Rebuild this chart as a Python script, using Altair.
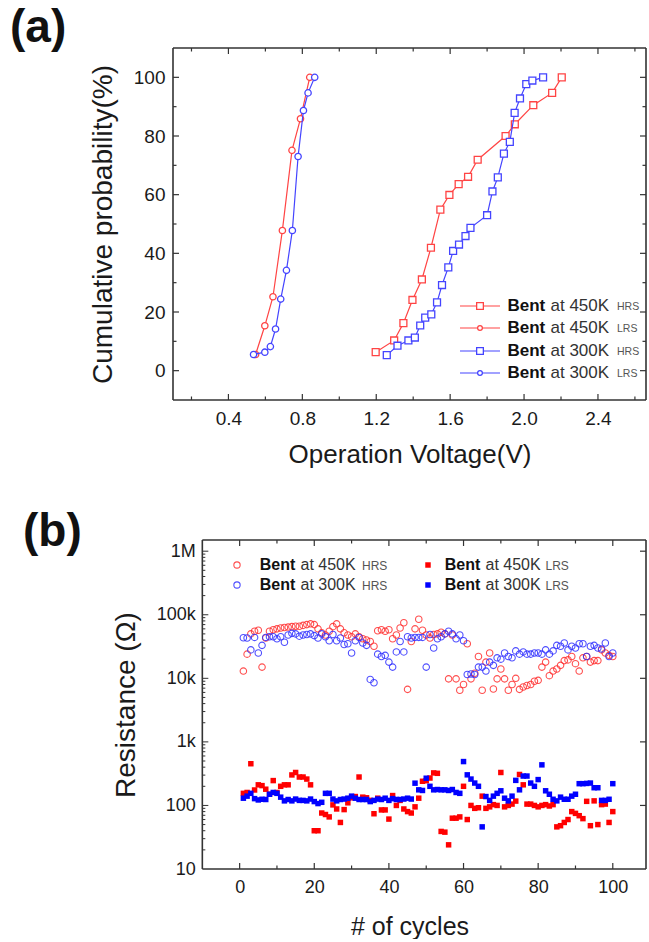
import altair as alt
import pandas as pd

FONT = "Liberation Sans"
RED_A = "#ff4444"
BLUE_A = "#4444ff"
RED = "#ff0000"
BLUE = "#0000ff"
FRAME = "#333333"
TXT = "#1a1a1a"

# ---------------- panel (a) data ----------------
hrs450_v = [1.197, 1.297, 1.347, 1.396, 1.447, 1.496, 1.547, 1.596, 1.646, 1.697,
            1.749, 1.900, 1.950, 2.050, 2.152, 2.204]
hrs450_p = [6.3, 10.3, 16.2, 24.1, 31.1, 41.9, 54.9, 59.9, 63.6, 66.1,
            71.9, 80.0, 84.0, 90.5, 94.7, 100.0]
lrs450_v = [0.547, 0.597, 0.641, 0.692, 0.744, 0.790, 0.840]
lrs450_p = [5.5, 15.3, 25.2, 47.8, 75.1, 85.9, 100.0]
hrs300_v = [1.257, 1.315, 1.374, 1.409, 1.438, 1.465, 1.498, 1.529, 1.556, 1.590,
            1.616, 1.648, 1.683, 1.710, 1.800, 1.829, 1.858, 1.891, 1.923, 1.949,
            1.978, 2.012, 2.045, 2.103]
hrs300_p = [5.3, 8.5, 10.3, 11.3, 15.4, 18.1, 19.2, 23.3, 29.2, 35.2,
            40.8, 43.0, 45.9, 48.7, 53.0, 61.1, 65.9, 74.0, 78.0, 87.9,
            92.8, 97.7, 98.9, 100.0]
lrs300_v = [0.536, 0.597, 0.627, 0.655, 0.683, 0.714, 0.746, 0.777, 0.806, 0.831, 0.867]
lrs300_p = [5.5, 6.3, 8.2, 14.2, 24.4, 34.2, 47.8, 73.0, 88.7, 94.7, 100.0]

xa_major = [0.4, 0.8, 1.2, 1.6, 2.0, 2.4]
xa_minor = [0.2, 0.6, 1.0, 1.4, 1.8, 2.2, 2.6]
ya_major = [0, 20, 40, 60, 80, 100]
ya_minor = [10, 30, 50, 70, 90]

# ---------------- panel (b) data ----------------
cycles = list(range(1, 101))
hrs450_k = [13, 24, 50, 55, 57, 15, 43, 55, 58, 60,
            62, 63, 64, 65, 66, 66, 68, 70, 72, 70,
            60, 52, 48, 55, 65, 72, 60, 52, 48, 45,
            50, 45, 42, 40, 38, 32, 56, 58, 55, 58,
            42, 48, 62, 75, 6.7, 38, 60, 85, 57, 48,
            43, 49, 50, 53, 50, 9.8, 48, 9.8, 6.5, 8,
            35, 9.8, 12, 22, 6.5, 18, 25, 6.8, 9.8, 14,
            9.8, 6.5, 8, 10, 6.7, 7.3, 7.7, 8, 9, 9.3,
            15, 18, 11, 13, 14, 16, 19, 19.5, 22, 17,
            13, 21, 22, 18, 19, 19, 28, 25, 23, 22]
hrs300_k = [43.5, 43, 28, 44, 25, 33, 44, 45, 45, 42,
            45, 37, 48, 51, 50, 46, 48, 49, 50, 47,
            43, 50, 45, 39, 49, 39, 43, 34, 35, 25,
            39, 44, 36, 33, 9.6, 8.5, 24, 22, 23, 18,
            15, 26, 38, 26, 45, 43, 44, 44, 44, 15,
            49, 30, 42, 45, 50, 55, 50, 42, 48, 39,
            11.5, 11.7, 11.5, 15, 15, 13, 18, 16, 21, 20,
            25, 22, 21, 27, 24, 26, 24, 24, 25, 25,
            24, 28, 24, 27, 33, 32, 36, 28, 32, 30,
            35, 35, 22, 32, 33, 30, 29, 36, 22, 25]
lrs450_ohm = [155, 160, 453, 175, 211, 205, 180, 150, 246, 160,
              200, 211, 211, 302, 330, 280, 280, 260, 211, 40,
              40, 76, 72, 66, 102, 88, 54, 86, 110, 132,
              138, 280, 135, 132, 120, 74, 130, 85, 85, 61,
              143, 100, 120, 88, 80, 76, 95, 130, 240, 245,
              270, 325, 320, 39, 38, 24, 63, 63, 66, 200,
              60, 100, 90, 92, 140, 90, 95, 103, 100, 330,
              95, 100, 105, 117, 307, 211, 105, 105, 100, 95,
              100, 103, 98, 103, 46, 48, 54, 60, 80, 75,
              69, 62, 116, 48, 118, 50, 103, 105, 54, 80]
lrs300_ohm = [130, 140, 155, 128, 122, 125, 124, 150, 160, 155,
              135, 118, 124, 118, 126, 120, 120, 118, 126, 115,
              107, 112, 155, 155, 126, 118, 124, 126, 130, 140,
              130, 124, 124, 124, 115, 120, 126, 124, 130, 120,
              128, 124, 124, 126, 130, 126, 224, 176, 172, 268,
              200, 176, 178, 176, 176, 172, 178, 160, 155, 490,
              303, 260, 225, 200, 46, 138, 120, 140, 155, 170,
              130, 118, 140, 248, 176, 290, 290, 225, 200, 255,
              435, 170, 150, 125, 118, 135, 125, 125, 140, 150,
              220, 220, 222, 225, 190, 190, 120, 120, 125, 220]

xb_major = [0, 20, 40, 60, 80, 100]
xb_minor = [10, 30, 50, 70, 90]
yb_major = [10, 100, 1000, 10000, 100000, 1000000]
yb_minor = [m * d for d in [10, 100, 1000, 10000, 100000] for m in range(2, 10)]

ONE = pd.DataFrame({"k": [0]})

# ================= panel (a) =================
WA, HA = 473, 352
XA = alt.X("v:Q", scale=alt.Scale(domain=[0.10, 2.66], nice=False, zero=False),
           axis=alt.Axis(values=xa_major, format=".1f", ticks=False, domain=False, grid=False,
                         labelFontSize=19, labelPadding=9, titleFontSize=26, titlePadding=13,
                         titleFontWeight="normal"),
           title="Operation Voltage(V)")
YA = alt.Y("p:Q", scale=alt.Scale(domain=[-10, 110], nice=False, zero=False),
           axis=alt.Axis(values=ya_major, ticks=False, domain=False, grid=False,
                         labelFontSize=19, labelPadding=8, titleFontSize=28, titlePadding=16,
                         titleFontWeight="normal"),
           title="Cumulative probability(%)")

layers_a = []


def curve(v, p, color, shape, size):
    df = pd.DataFrame({"v": v, "p": p, "i": list(range(len(v)))})
    line = alt.Chart(df).mark_line(color=color, strokeWidth=1.2).encode(x=XA, y=YA, order="i:Q")
    pts = alt.Chart(df).mark_point(shape=shape, filled=True, fill="white", stroke=color,
                                   strokeWidth=1.3, size=size, opacity=1).encode(x=XA, y=YA)
    return [line, pts]


layers_a += curve(hrs450_v, hrs450_p, RED_A, "square", 48)
layers_a += curve(lrs450_v, lrs450_p, RED_A, "circle", 40)
layers_a += curve(hrs300_v, hrs300_p, BLUE_A, "square", 48)
layers_a += curve(lrs300_v, lrs300_p, BLUE_A, "circle", 40)

for vals, ln in [(xa_major, 6), (xa_minor, 3.5)]:
    df = pd.DataFrame({"v": vals})
    layers_a.append(alt.Chart(df).mark_rule(color=FRAME, strokeWidth=1.2).encode(
        x=XA, y=alt.value(HA), y2=alt.value(HA - ln)))
    layers_a.append(alt.Chart(df).mark_rule(color=FRAME, strokeWidth=1.2).encode(
        x=XA, y=alt.value(0), y2=alt.value(ln)))
for vals, ln in [(ya_major, 6), (ya_minor, 3.5)]:
    df = pd.DataFrame({"p": vals})
    layers_a.append(alt.Chart(df).mark_rule(color=FRAME, strokeWidth=1.2).encode(
        y=YA, x=alt.value(0), x2=alt.value(ln)))
    layers_a.append(alt.Chart(df).mark_rule(color=FRAME, strokeWidth=1.2).encode(
        y=YA, x=alt.value(WA), x2=alt.value(WA - ln)))

# frame
layers_a.append(alt.Chart(ONE).mark_rule(color=FRAME, strokeWidth=1.6).encode(
    x=alt.value(0), x2=alt.value(WA), y=alt.value(0)))
layers_a.append(alt.Chart(ONE).mark_rule(color=FRAME, strokeWidth=1.6).encode(
    x=alt.value(0), x2=alt.value(WA), y=alt.value(HA)))
layers_a.append(alt.Chart(ONE).mark_rule(color=FRAME, strokeWidth=1.6).encode(
    x=alt.value(0), y=alt.value(0), y2=alt.value(HA)))
layers_a.append(alt.Chart(ONE).mark_rule(color=FRAME, strokeWidth=1.6).encode(
    x=alt.value(WA), y=alt.value(0), y2=alt.value(HA)))

# legend (a)
leg_rows = [("450K", "HRS", RED_A, "square"), ("450K", "LRS", RED_A, "circle"),
            ("300K", "HRS", BLUE_A, "square"), ("300K", "LRS", BLUE_A, "circle")]
leg_y = [258, 280, 303, 325]
for (temp, state, color, shape), y in zip(leg_rows, leg_y):
    layers_a.append(alt.Chart(ONE).mark_rule(color=color, strokeWidth=1.2).encode(
        x=alt.value(287), x2=alt.value(327), y=alt.value(y)))
    layers_a.append(alt.Chart(ONE).mark_point(shape=shape, filled=True, fill="white", stroke=color,
                                              strokeWidth=1.3, opacity=1,
                                              size=45 if shape == "square" else 22).encode(
        x=alt.value(307), y=alt.value(y)))
    layers_a.append(alt.Chart(ONE).mark_text(text="Bent", font=FONT, fontSize=17, fontWeight="bold",
                                             align="left", baseline="middle", color="#111").encode(
        x=alt.value(334.5), y=alt.value(y)))
    layers_a.append(alt.Chart(ONE).mark_text(text="at " + temp, font=FONT, fontSize=17,
                                             align="left", baseline="middle", color="#333").encode(
        x=alt.value(377.5), y=alt.value(y)))
    layers_a.append(alt.Chart(ONE).mark_text(text=state, font=FONT, fontSize=10.5,
                                             align="left", baseline="middle", color="#555").encode(
        x=alt.value(444), y=alt.value(y + 1)))

layers_a.append(alt.Chart(ONE).mark_text(text="(a)", font=FONT, fontSize=46, fontWeight="bold",
                                         align="left", baseline="middle", color="#111").encode(
    x=alt.value(-163), y=alt.value(-20)))

panel_a = alt.layer(*layers_a).properties(width=WA, height=HA)

# ================= panel (b) =================
WB, HB = 473, 329
XB = alt.X("c:Q", scale=alt.Scale(domain=[-17.86, 108.9], nice=False, zero=False),
           axis=alt.Axis(values=xb_major, format="d", ticks=False, domain=False, grid=False,
                         labelFontSize=18, labelPadding=9, titleFontSize=25, titlePadding=18,
                         titleFontWeight="normal"),
           title="# of cycles")
YB = alt.Y("r:Q", scale=alt.Scale(type="log", domain=[10, 1500000], nice=False),
           axis=alt.Axis(values=yb_major, ticks=False, domain=False, grid=False,
                         labelExpr="datum.value >= 1000000 ? '1M' : datum.value >= 1000 ? (datum.value / 1000) + 'k' : datum.label",
                         offset=-29.3, labelFontSize=18, labelPadding=7, titleFontSize=28,
                         titlePadding=16, titleFontWeight="normal"),
           title="Resistance (Ω)")

layers_b = []


def scat(vals, color, shape, filled, size, scale=1.0):
    df = pd.DataFrame({"c": cycles, "r": [x * scale for x in vals]})
    if filled:
        m = alt.Chart(df).mark_point(shape=shape, filled=True, color=color, size=size, opacity=1,
                                     strokeWidth=0)
    else:
        m = alt.Chart(df).mark_point(shape=shape, filled=False, color=color, size=size, opacity=0.85,
                                     strokeWidth=1.1)
    return m.encode(x=XB, y=YB)


layers_b.append(scat(hrs450_k, "#ff3030", "circle", False, 42, 1000))
layers_b.append(scat(hrs300_k, "#3030ff", "circle", False, 42, 1000))
layers_b.append(scat(lrs450_ohm, RED, "square", True, 30))
layers_b.append(scat(lrs300_ohm, BLUE, "square", True, 30))

for vals, ln in [(xb_major, 6), (xb_minor, 3.5)]:
    df = pd.DataFrame({"c": vals})
    layers_b.append(alt.Chart(df).mark_rule(color=FRAME, strokeWidth=1.2).encode(
        x=XB, y=alt.value(HB), y2=alt.value(HB - ln)))
    layers_b.append(alt.Chart(df).mark_rule(color=FRAME, strokeWidth=1.2).encode(
        x=XB, y=alt.value(0), y2=alt.value(ln)))
for vals, ln in [(yb_major[1:], 6), (yb_minor, 3)]:
    df = pd.DataFrame({"r": vals})
    layers_b.append(alt.Chart(df).mark_rule(color=FRAME, strokeWidth=1.0, x2Offset=ln).encode(
        y=YB, x=alt.datum(-10), x2=alt.datum(-10)))
df_rm = pd.DataFrame({"r": yb_major[1:]})
layers_b.append(alt.Chart(df_rm).mark_rule(color=FRAME, strokeWidth=1.2).encode(
    y=YB, x=alt.value(WB), x2=alt.value(WB - 6)))

# frame (b)
layers_b.append(alt.Chart(ONE).mark_rule(color=FRAME, strokeWidth=1.6).encode(
    x=alt.datum(-10), x2=alt.value(WB), y=alt.value(0)))
layers_b.append(alt.Chart(ONE).mark_rule(color=FRAME, strokeWidth=1.6).encode(
    x=alt.datum(-10), x2=alt.value(WB), y=alt.value(HB)))
layers_b.append(alt.Chart(ONE).mark_rule(color=FRAME, strokeWidth=1.6).encode(
    x=alt.datum(-10), y=alt.value(0), y2=alt.value(HB)))
layers_b.append(alt.Chart(ONE).mark_rule(color=FRAME, strokeWidth=1.6).encode(
    x=alt.value(WB), y=alt.value(0), y2=alt.value(HB)))

# legend (b)
leg_b = [(64, 86.7, 127.5, 189, "450K", "HRS", "#ff3030", "circle", False, 25),
         (255, 271.7, 312.5, 372.5, "450K", "LRS", RED, "square", True, 25),
         (64, 86.7, 127.5, 189, "300K", "HRS", "#3030ff", "circle", False, 45),
         (255, 271.7, 312.5, 372.5, "300K", "LRS", BLUE, "square", True, 45)]
for mx, bx, ax, sx, temp, state, color, shape, filled, y in leg_b:
    if filled:
        mk = alt.Chart(ONE).mark_point(shape=shape, filled=True, color=color, size=30, opacity=1,
                                       strokeWidth=0)
    else:
        mk = alt.Chart(ONE).mark_point(shape=shape, filled=False, color=color, size=40, opacity=0.85,
                                       strokeWidth=1.1)
    layers_b.append(mk.encode(x=alt.value(mx), y=alt.value(y)))
    layers_b.append(alt.Chart(ONE).mark_text(text="Bent", font=FONT, fontSize=16, fontWeight="bold",
                                             align="left", baseline="middle", color="#111").encode(
        x=alt.value(bx), y=alt.value(y)))
    layers_b.append(alt.Chart(ONE).mark_text(text="at " + temp, font=FONT, fontSize=16,
                                             align="left", baseline="middle", color="#333").encode(
        x=alt.value(ax), y=alt.value(y)))
    layers_b.append(alt.Chart(ONE).mark_text(text=state, font=FONT, fontSize=12,
                                             align="left", baseline="middle", color="#555").encode(
        x=alt.value(sx), y=alt.value(y + 1)))

layers_b.append(alt.Chart(ONE).mark_text(text="(b)", font=FONT, fontSize=46, fontWeight="bold",
                                         align="left", baseline="middle", color="#111").encode(
    x=alt.value(-150), y=alt.value(-8)))

panel_b = alt.layer(*layers_b).properties(width=WB, height=HB)

chart = (
    alt.vconcat(panel_a, panel_b, spacing=42)
    .properties(padding={"left": 10, "top": 5, "right": 0, "bottom": 0})
    .configure_view(strokeWidth=0)
    .configure_axis(labelFont=FONT, titleFont=FONT, labelColor=TXT, titleColor=TXT)
    .configure_text(font=FONT)
)

chart.save("out.html", embed_options={"renderer": "svg", "actions": False})
